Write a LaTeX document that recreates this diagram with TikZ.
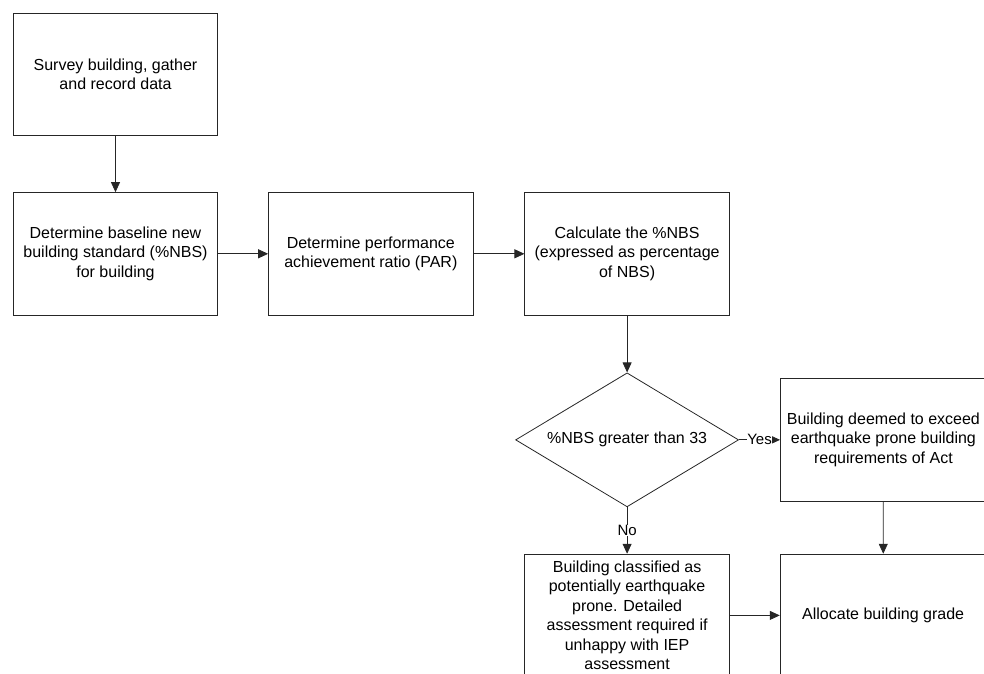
\documentclass[tikz,border=0pt]{standalone}
\usepackage{fontspec}
\setmainfont{Liberation Sans}
\usetikzlibrary{arrows.meta,positioning,shapes.geometric}

\begin{document}
\begin{tikzpicture}[
    font=\fontsize{16pt}{19.5pt}\selectfont,
    box/.style={rectangle,draw=black!85,line width=0.8pt,minimum width=204.5pt,minimum height=122.5pt,inner sep=2pt,align=center},
    decide/.style={diamond,draw=black!85,line width=0.8pt,minimum width=223pt,minimum height=134pt,aspect=1.66,inner sep=0pt,align=center},
    arr/.style={-{Triangle[length=10pt,width=9pt]},draw=black!85,line width=0.8pt},
    lbl/.style={fill=white,inner sep=0.5pt,font=\fontsize{15pt}{18pt}\selectfont},
    node distance=56pt,
]
\useasboundingbox (0,0) rectangle (984pt,-673pt);

% ---- top chain ----
\node[box] (survey) at (115.5pt,-74.5pt) {Survey building, gather\\and record data};
\node[box,below=of survey] (base) {Determine baseline new\\building standard (\%NBS)\\for building};
\node[box,right=50pt of base] (par) {Determine performance\\achievement ratio (PAR)};
\node[box,right=51pt of par] (calc) {Calculate the \%NBS\\(expressed as percentage\\of NBS)};

% ---- decision and outcomes ----
\node[decide,below=57pt of calc] (dec) {\%NBS greater than 33};
\node[box,minimum width=206pt,right=41pt of dec] (deemed) {Building deemed to exceed\\earthquake prone building\\requirements of Act};
\node[box,below=46.5pt of dec] (prone) {Building classified as\\potentially earthquake\\prone. Detailed\\assessment required if\\unhappy with IEP\\assessment};
\node[box,minimum width=206pt,right=50pt of prone] (alloc) {Allocate building grade};

% connectors
\draw[arr] (survey) -- (base);
\draw[arr] (base) -- (par);
\draw[arr] (par) -- (calc);
\draw[arr] (calc) -- (dec);
\draw[arr] (dec) -- node[lbl]{Yes} (deemed);
\draw[arr] (dec) -- node[lbl]{No} (prone);
\draw[arr] (deemed) -- (alloc);
\draw[arr] (prone) -- (alloc);
\end{tikzpicture}
\end{document}
